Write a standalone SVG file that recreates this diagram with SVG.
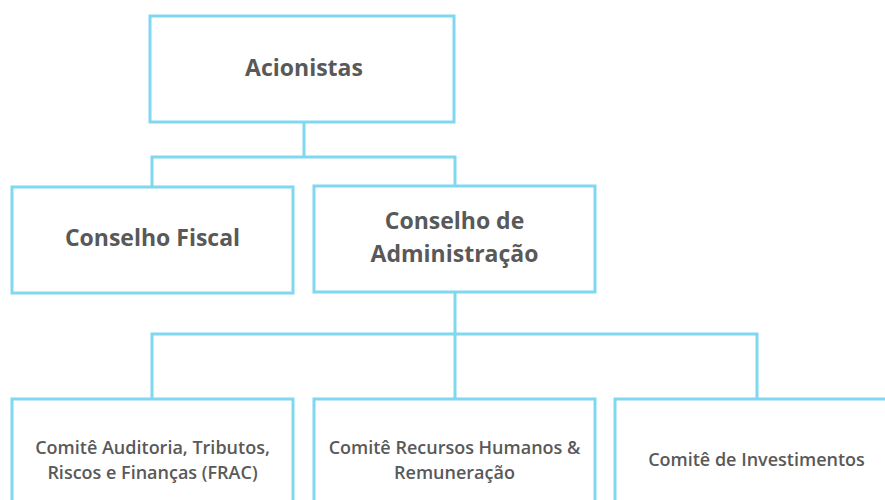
<svg xmlns="http://www.w3.org/2000/svg" width="885" height="500" viewBox="0 0 885 500">
<style>
.box{fill:#fff;stroke:#80d8f0;stroke-width:3}
.c{fill:none;stroke:#80d8f0;stroke-width:3}
.t{font-family:"Open Sans","Liberation Sans",sans-serif;font-weight:700;fill:#595959;text-anchor:middle}
.big{font-size:23px}
.sm{font-size:18px;font-weight:600}
</style>
<rect width="885" height="500" fill="#fff"/>
<g id="connectors">
<path class="c" d="M304 122V157M152 186V157H455V186"/>
<path class="c" d="M455 292V334M152 399V334H757V399M455 334V399"/>
</g>
<g id="acionistas">
<rect class="box" x="150" y="16" width="304" height="106"/>
<text class="t big" x="304" y="76">Acionistas</text>
</g>
<g id="conselho-fiscal">
<rect class="box" x="12" y="187" width="281" height="106"/>
<text class="t big" x="152.5" y="246">Conselho Fiscal</text>
</g>
<g id="conselho-admin">
<rect class="box" x="314" y="186" width="281" height="106"/>
<text class="t big" x="454.5" y="229">Conselho de</text>
<text class="t big" x="454.5" y="262">Administração</text>
</g>
<g id="frac">
<rect class="box" x="12" y="399" width="281" height="110"/>
<text class="t sm" x="152.5" y="454">Comitê Auditoria, Tributos,</text>
<text class="t sm" x="152.5" y="479">Riscos e Finanças (FRAC)</text>
</g>
<g id="rh">
<rect class="box" x="314" y="399" width="281" height="110"/>
<text class="t sm" x="454.5" y="454">Comitê Recursos Humanos &amp;</text>
<text class="t sm" x="454.5" y="479">Remuneração</text>
</g>
<g id="investimentos">
<rect class="box" x="615" y="399" width="281" height="110"/>
<text class="t sm" x="756.5" y="466">Comitê de Investimentos</text>
</g>
</svg>
